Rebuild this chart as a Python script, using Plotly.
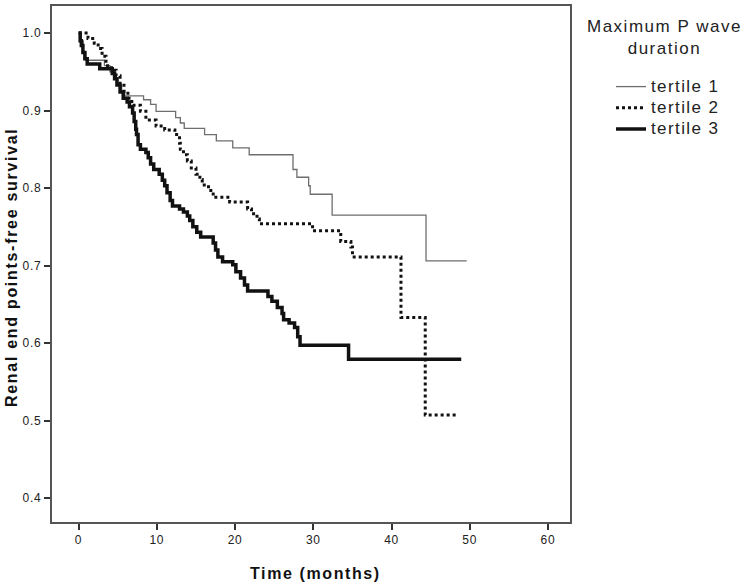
import plotly.graph_objects as go

# ---- data ----
series_names = ["tertile 1", "tertile 2", "tertile 3"]

t1_time = [0, 0.3, 0.6, 0.9, 3.3, 4.0, 4.6, 5.0, 5.5, 5.9, 8.3, 9.2, 9.9, 12.4, 13.0,
           13.5, 16.1, 17.6, 19.7, 21.8, 27.4, 27.9, 29.4, 29.6, 32.4, 44.4, 49.6]
t1_surv = [1.0, 0.99, 0.975, 0.965, 0.958, 0.950, 0.942, 0.933, 0.925, 0.919, 0.914, 0.908,
           0.899, 0.891, 0.884, 0.877, 0.869, 0.861, 0.852, 0.843, 0.824, 0.814, 0.803,
           0.792, 0.765, 0.706, 0.706]

t2_time = [0, 1.2, 2.0, 2.5, 3.0, 3.5, 4.2, 4.8, 5.3, 5.8, 6.3, 6.8, 7.9, 8.6, 9.9, 11.0,
           12.3, 12.9, 13.0, 13.4, 13.9, 14.4, 15.0, 15.5, 15.8, 16.6, 17.2, 19.3, 21.6,
           22.1, 22.8, 23.1, 29.9, 33.5, 34.8, 35.0, 41.2, 44.3, 48.5]
t2_surv = [1.0, 0.993, 0.987, 0.980, 0.970, 0.958, 0.952, 0.945, 0.935, 0.925, 0.916, 0.907,
           0.899, 0.888, 0.880, 0.875, 0.869, 0.858, 0.850, 0.843, 0.835, 0.826, 0.818,
           0.811, 0.804, 0.797, 0.788, 0.782, 0.773, 0.767, 0.760, 0.754, 0.745, 0.731,
           0.724, 0.711, 0.633, 0.507, 0.507]

t3_time = [0, 0.2, 0.35, 0.55, 0.8, 1.1, 2.7, 4.3, 4.6, 4.9, 5.3, 5.7, 6.2, 6.5, 6.9, 7.1,
           7.3, 7.4, 7.6, 7.9, 8.6, 8.9, 9.2, 9.6, 10.3, 10.7, 11.0, 11.3, 11.7, 12.0, 12.9,
           13.4, 13.9, 14.2, 14.6, 15.1, 15.6, 17.2, 17.5, 17.8, 18.4, 19.7, 20.1, 20.7,
           21.2, 21.6, 24.2, 24.7, 25.4, 26.0, 26.2, 26.9, 27.6, 28.0, 28.3, 34.5, 48.9]
t3_surv = [1.0, 0.99, 0.984, 0.975, 0.967, 0.960, 0.954, 0.948, 0.941, 0.933, 0.924, 0.916,
           0.911, 0.905, 0.897, 0.886, 0.876, 0.869, 0.856, 0.850, 0.846, 0.839, 0.831,
           0.824, 0.818, 0.810, 0.803, 0.794, 0.784, 0.777, 0.773, 0.769, 0.764, 0.758,
           0.750, 0.743, 0.737, 0.729, 0.720, 0.711, 0.705, 0.701, 0.692, 0.684, 0.675,
           0.667, 0.660, 0.654, 0.646, 0.638, 0.630, 0.626, 0.620, 0.608, 0.597, 0.579,
           0.579]

x_ticks = [0, 10, 20, 30, 40, 50, 60]
x_tick_text = ["0", "10", "20", "30", "40", "50", "60"]
y_ticks = [0.4, 0.5, 0.6, 0.7, 0.8, 0.9, 1.0]
y_tick_text = ["0.4", "0.5", "0.6", "0.7", "0.8", "0.9", "1.0"]

legend_title = "Maximum P wave<br>duration"
x_title = "Time (months)"
y_title = "Renal end points-free survival"

# ---- layout geometry (pixels) ----
W, H = 745, 586
L, R, T, B = 52, 570, 4, 522


def px_x(p):
    return (p - L) / (R - L)


def px_y(p):
    return (B - p) / (B - T)


def spaced(s, ls, extra=""):
    return '<span style="letter-spacing:%spx;%s">%s</span>' % (ls, extra, s)


FONT = "Liberation Sans, Arial, sans-serif"

fig = go.Figure()
styles = [
    dict(color="#6e6e6e", width=1.3),
    dict(color="#111111", width=3, dash="dot"),
    dict(color="#111111", width=3.5),
]
for name, tx, sy, st in zip(series_names, [t1_time, t2_time, t3_time],
                            [t1_surv, t2_surv, t3_surv], styles):
    fig.add_trace(go.Scatter(x=tx, y=sy, mode="lines",
                             name=spaced(name, 1.4, "font-size:17px"),
                             line=dict(shape="hv", **st)))

axis_common = dict(
    showgrid=False, zeroline=False, showline=True, mirror=True,
    linecolor="#555555", linewidth=2, ticks="outside", ticklen=6,
    tickwidth=2, tickcolor="#333333",
    tickfont=dict(family=FONT, size=12, color="#222222"),
)
fig.update_xaxes(range=[-3.4, 62.8], tickvals=x_ticks,
                 ticktext=[spaced(t, 0.8) for t in x_tick_text], **axis_common)
fig.update_yaxes(range=[0.369, 1.035], tickvals=y_ticks,
                 ticktext=[spaced(t, 0.8) for t in y_tick_text], **axis_common)

fig.add_annotation(text=spaced(legend_title, 1.5), x=px_x(664), y=px_y(36),
                   xref="paper", yref="paper",
                   showarrow=False, align="center", xanchor="center", yanchor="middle",
                   font=dict(family=FONT, size=17, color="#222222"))
fig.add_annotation(text=spaced("<b>" + x_title + "</b>", 1.6), x=px_x(315), y=px_y(574),
                   xref="paper", yref="paper", showarrow=False,
                   xanchor="center", yanchor="middle",
                   font=dict(family=FONT, size=16, color="#111111"))
fig.add_annotation(text=spaced("<b>" + y_title + "</b>", 1.7), x=px_x(12), y=px_y(266),
                   xref="paper", yref="paper", showarrow=False, textangle=-90,
                   xanchor="center", yanchor="middle",
                   font=dict(family=FONT, size=16, color="#111111"))

fig.update_layout(
    width=W, height=H,
    margin=dict(l=L, r=W - R, t=T, b=H - B),
    paper_bgcolor="white", plot_bgcolor="white",
    showlegend=True,
    legend=dict(xref="container", yref="container", x=611 / W, y=1 - 71 / H,
                xanchor="left", yanchor="top", bgcolor="rgba(0,0,0,0)",
                font=dict(family=FONT, size=14, color="#222222"),
                itemwidth=30, tracegroupgap=0),
)

fig.write_html("out.html", config={"displayModeBar": False},
               post_script="document.body.style.margin='0px';")
